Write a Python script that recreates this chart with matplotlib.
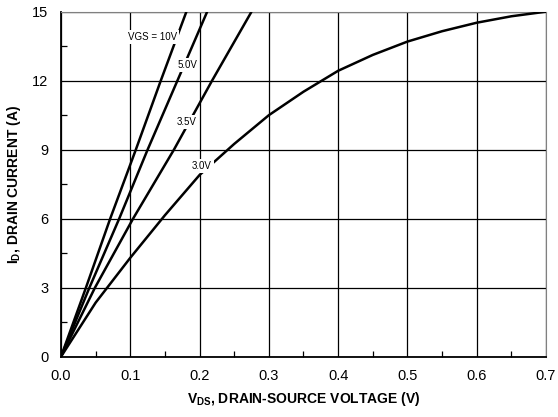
import numpy as np
import matplotlib
matplotlib.use('Agg')
import matplotlib.pyplot as plt
from matplotlib.ticker import MultipleLocator

plt.rcParams['font.family'] = ['Liberation Sans', 'DejaVu Sans']
plt.rcParams['mathtext.fontset'] = 'custom'
plt.rcParams['mathtext.rm'] = 'Liberation Sans:bold'
plt.rcParams['mathtext.bf'] = 'Liberation Sans:bold'

# drain current points (A) and matching drain-source voltage (V) per gate voltage
i_lin = [0, 3, 6, 9, 12, 15]
v_10v = [0, 0.036, 0.071, 0.108, 0.144, 0.181]
v_5v = [0, 0.041, 0.084, 0.125, 0.168, 0.211]
v_35v = [0, 0.049, 0.104, 0.163, 0.218, 0.275]
v_3v = [0, 0.05, 0.1, 0.15, 0.2, 0.25, 0.3, 0.35, 0.4, 0.45, 0.5, 0.55, 0.6, 0.65, 0.7]
i_3v = [0, 2.35, 4.3, 6.15, 7.9, 9.25, 10.5, 11.52, 12.43, 13.12, 13.7, 14.15, 14.52, 14.8, 15.0]

labels = ['VGS = 10V', '5.0V', '3.5V', '3.0V']
label_pos = [(0.132, 13.9), (0.182, 12.68), (0.182, 10.2), (0.203, 8.3)]

fig = plt.figure(figsize=(5.58, 4.17), dpi=100)
ax = fig.add_axes([0.1093, 0.1446, 0.8692, 0.8274])

for v, i in [(v_10v, i_lin), (v_5v, i_lin), (v_35v, i_lin), (v_3v, i_3v)]:
    ax.plot(v, i, color='black', lw=1.8, solid_capstyle='butt',
            solid_joinstyle='round', zorder=3)

for txt, (x, y) in zip(labels, label_pos):
    ax.text(x, y, txt, fontsize=7, ha='center', va='center', zorder=4,
            bbox=dict(facecolor='white', edgecolor='none', pad=1.5))

ax.set_xlim(0, 0.7)
ax.set_ylim(0, 15)
ax.xaxis.set_major_locator(MultipleLocator(0.1))
ax.xaxis.set_minor_locator(MultipleLocator(0.05))
ax.yaxis.set_major_locator(MultipleLocator(3))
ax.yaxis.set_minor_locator(MultipleLocator(1.5))
ax.set_xticklabels(['{:.1f}'.format(t) for t in ax.get_xticks()])
ax.grid(True, which='major', color='black', lw=0.9)
ax.tick_params(which='both', direction='in', labelsize=10.5, top=False, right=False)
ax.tick_params(which='major', length=0, pad=9)
ax.tick_params(which='minor', length=4, width=0.9)

for side in ['top', 'right']:
    ax.spines[side].set_color('0.5')
for side in ['left', 'bottom']:
    ax.spines[side].set_linewidth(1.3)

ax.set_xlabel(r'V$_{\mathrm{DS}}$, DRAIN-SOURCE VOLTAGE (V)', fontsize=10,
              fontweight='bold', labelpad=5)
ax.set_ylabel(r'I$_{\mathrm{D}}$, DRAIN CURRENT (A)', fontsize=10,
              fontweight='bold', labelpad=7)

fig.savefig('out.png', dpi=100)
